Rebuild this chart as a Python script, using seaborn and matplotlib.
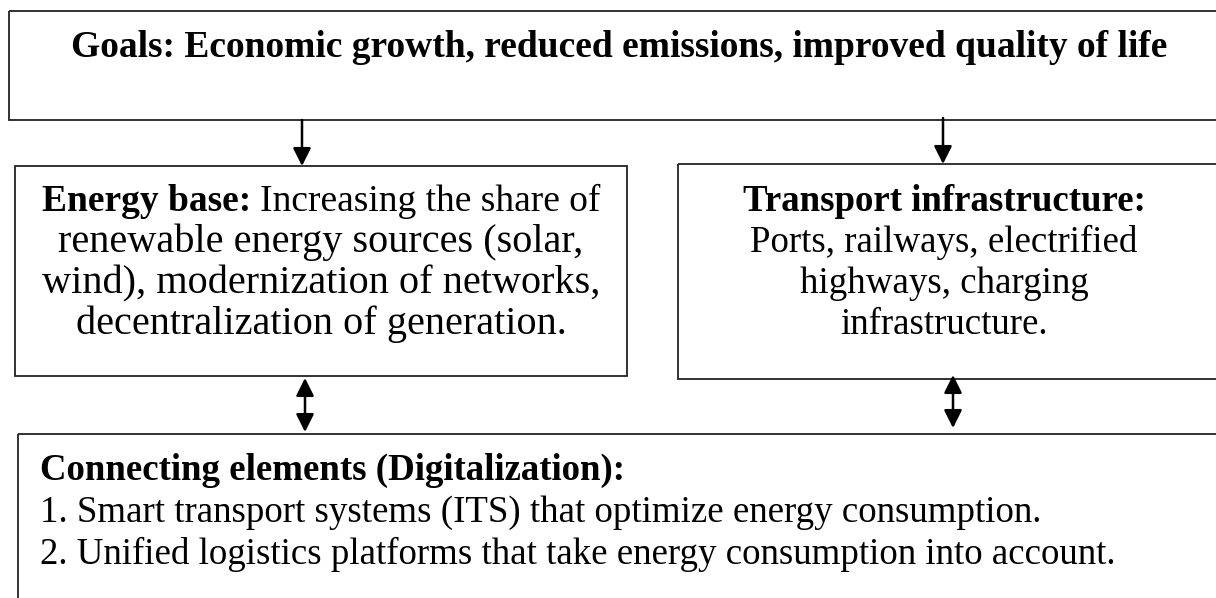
import matplotlib
matplotlib.use("Agg")
import matplotlib.pyplot as plt
import seaborn as sns
from matplotlib.patches import Rectangle

sns.set_theme(style="white")
plt.rcParams["font.family"] = ["Liberation Serif", "DejaVu Serif"]

# texts of the diagram
goal_text = "Goals: Economic growth, reduced emissions, improved quality of life"
energy_title = "Energy base:"
energy_lines = ["Increasing the share of",
                "renewable energy sources (solar,",
                "wind), modernization of networks,",
                "decentralization of generation."]
transport_title = "Transport infrastructure:"
transport_lines = ["Ports, railways, electrified",
                   "highways, charging",
                   "infrastructure."]
connect_title = "Connecting elements (Digitalization):"
connect_items = ["1. Smart transport systems (ITS) that optimize energy consumption.",
                 "2. Unified logistics platforms that take energy consumption into account."]

# layout in pixels (x, y, w, h), y going down
box_goals = (9, 11, 1400, 109)
box_energy = (15, 166, 612, 210)
box_transport = (678, 164, 700, 215)
box_connect = (18, 434, 1400, 300)
arrow_down = [(302, 120, 166), (943, 118, 164)]
arrow_both = [(305, 378, 432), (953, 375, 428)]

FS = 26.6
FS_GOAL = 27
FS_ENERGY = 29
LH = 41

fig = plt.figure(figsize=(12.16, 5.98), dpi=100)
ax = fig.add_axes([0, 0, 1, 1])
ax.set_xlim(0, 1216)
ax.set_ylim(598, 0)
ax.axis("off")
fig.canvas.draw()
renderer = fig.canvas.get_renderer()


def text_width(s, size, **kw):
    t = ax.text(0, 0, s, fontsize=size, **kw)
    w = t.get_window_extent(renderer).width
    t.remove()
    return w


for (x, y, w, h) in [box_goals, box_energy, box_transport, box_connect]:
    ax.add_patch(Rectangle((x, y), w, h, fill=False, edgecolor="#222222", lw=1.3))

head = "head_length=0.6,head_width=0.3"
for (x, y0, y1) in arrow_down:
    ax.annotate("", xy=(x, y1), xytext=(x, y0),
                arrowprops=dict(arrowstyle="-|>," + head, color="black", lw=1.8,
                                shrinkA=0, shrinkB=0, mutation_scale=18))
for (x, y0, y1) in arrow_both:
    ax.annotate("", xy=(x, y1), xytext=(x, y0),
                arrowprops=dict(arrowstyle="<|-|>," + head, color="black", lw=1.8,
                                shrinkA=0, shrinkB=0, mutation_scale=18))

# goals
ax.text(619, 57, goal_text, fontsize=FS_GOAL, fontweight="bold", ha="center", va="baseline", color="black")

# energy box: first line mixes bold and regular
cx = box_energy[0] + box_energy[2] / 2
wb = text_width(energy_title, 27, fontweight="bold")
sp = text_width("a b", 27) - text_width("ab", 27)
wr = text_width(energy_lines[0], 27)
x0 = cx - (wb + sp + wr) / 2
base = 211
ax.text(x0, base, energy_title, fontsize=27, fontweight="bold", ha="left", va="baseline", color="black")
ax.text(x0 + wb + sp, base, energy_lines[0], fontsize=27, ha="left", va="baseline", color="black")
for i, line in enumerate(energy_lines[1:]):
    ax.text(cx, base + LH * (i + 1), line, fontsize=FS_ENERGY, ha="center", va="baseline", color="black")

# transport box
tx = 944
ax.text(tx, 211, transport_title, fontsize=FS, fontweight="bold", ha="center", va="baseline", color="black")
for i, line in enumerate(transport_lines):
    ax.text(tx, 211 + LH * (i + 1), line, fontsize=FS, ha="center", va="baseline", color="black")

# connecting box
ax.text(40, 480, connect_title, fontsize=FS, fontweight="bold", ha="left", va="baseline", color="black")
for i, line in enumerate(connect_items):
    ax.text(40, 522 + 42 * i, line, fontsize=FS, ha="left", va="baseline", color="black")

fig.savefig("out.png", dpi=100, facecolor="white")
